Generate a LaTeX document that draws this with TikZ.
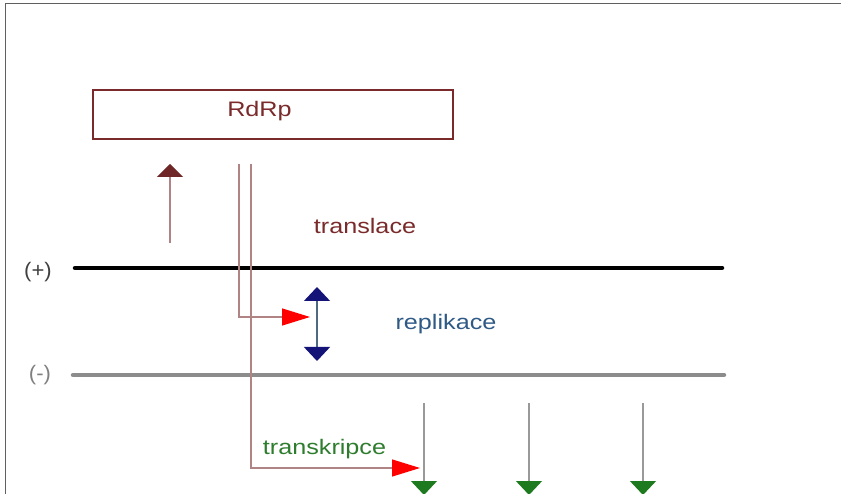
\documentclass[tikz,border=0pt]{standalone}
\usepackage{fontspec}
\setmainfont{Liberation Sans}
\usetikzlibrary{arrows.meta}
\definecolor{brn}{HTML}{7A2A2A}
\definecolor{conn}{HTML}{B08484}
\definecolor{repl}{HTML}{2F5A85}
\definecolor{trgreen}{HTML}{2E7D2E}
\definecolor{navyhead}{HTML}{141478}
\definecolor{greenhead}{HTML}{1E7A1E}
\newcommand{\wtxt}[1]{\scalebox{1.2}[1]{#1}}
\tikzset{
  lbl/.style={inner sep=0pt, font=\fontsize{21}{25}\selectfont},
  strand/.style={line width=4.5pt},
  connline/.style={conn, line width=1.3pt},
  redtip/.style={-{Triangle[length=28pt,width=17pt,color=red]}},
  greenarrow/.style={draw=gray!80, line width=1.3pt, -{Triangle[length=14pt,width=26pt,color=greenhead]}},
}
\begin{document}
\begin{tikzpicture}[x=1pt,y=-1pt]
\useasboundingbox (0,0) rectangle (841,494);
% frame
\draw[gray!75!black, line width=1.5pt] (5.5,494) -- (5.5,3.5) -- (841,3.5);
% RdRp box
\node[draw=brn, line width=2pt, minimum width=360pt, minimum height=49pt, inner sep=0pt] (rdrp) at (273,114.5) {};
\node[lbl, text=brn, anchor=base] (rdrptxt) at (259.5,117) {\wtxt{RdRp}};
% strands
\coordinate (pstart) at (75,268);
\coordinate (pend) at (722,268);
\coordinate (mstart) at (73,375);
\coordinate (mend) at (724,375);
\draw[strand, black, line cap=round] (pstart) -- (pend);
\draw[strand, gray!90, line cap=round] (mstart) -- (mend);
\node[lbl, text=black!75] (plus) at (38,272) {\scalebox{1.05}[1]{(+)}};
\node[lbl, text=gray] (minus) at (40,375) {\scalebox{1.05}[1]{(-)}};
% translation arrow
\coordinate (tlb) at (170,243);
\coordinate (tlt) at (170,164);
\draw[connline, -{Triangle[length=13pt,width=26pt,color=brn!90!black]}] (tlb) -- (tlt);
\node[lbl, text=brn, anchor=base] (transl) at (365,234) {\wtxt{translace}};
% replication connector
\coordinate (r1) at (239,164);
\coordinate (r2) at (239,317);
\coordinate (r3) at (310,317);
\draw[connline, redtip] (r1) -- (r2) -- (r3);
% transcription connector
\coordinate (t1) at (251,164);
\coordinate (t2) at (251,468);
\coordinate (t3) at (420,468);
\draw[connline, redtip] (t1) -- (t2) -- (t3);
% replication double arrow
\coordinate (rt) at (317,287);
\coordinate (rb) at (317,361);
\draw[draw=repl!60!gray, line width=1.3pt, {Triangle[length=14pt,width=26pt,color=navyhead]}-{Triangle[length=14pt,width=26pt,color=navyhead]}] (rt) -- (rb);
\node[lbl, text=repl, anchor=base] (repltxt) at (446,330) {\wtxt{replikace}};
% transcription arrows
\coordinate (g1a) at (424,403); \coordinate (g1b) at (424,495);
\coordinate (g2a) at (529,403); \coordinate (g2b) at (529,495);
\coordinate (g3a) at (643,403); \coordinate (g3b) at (643,495);
\draw[greenarrow] (g1a) -- (g1b);
\draw[greenarrow] (g2a) -- (g2b);
\draw[greenarrow] (g3a) -- (g3b);
\node[lbl, text=trgreen, anchor=base] (trtxt) at (324.5,454) {\wtxt{transkripce}};
\end{tikzpicture}
\end{document}
